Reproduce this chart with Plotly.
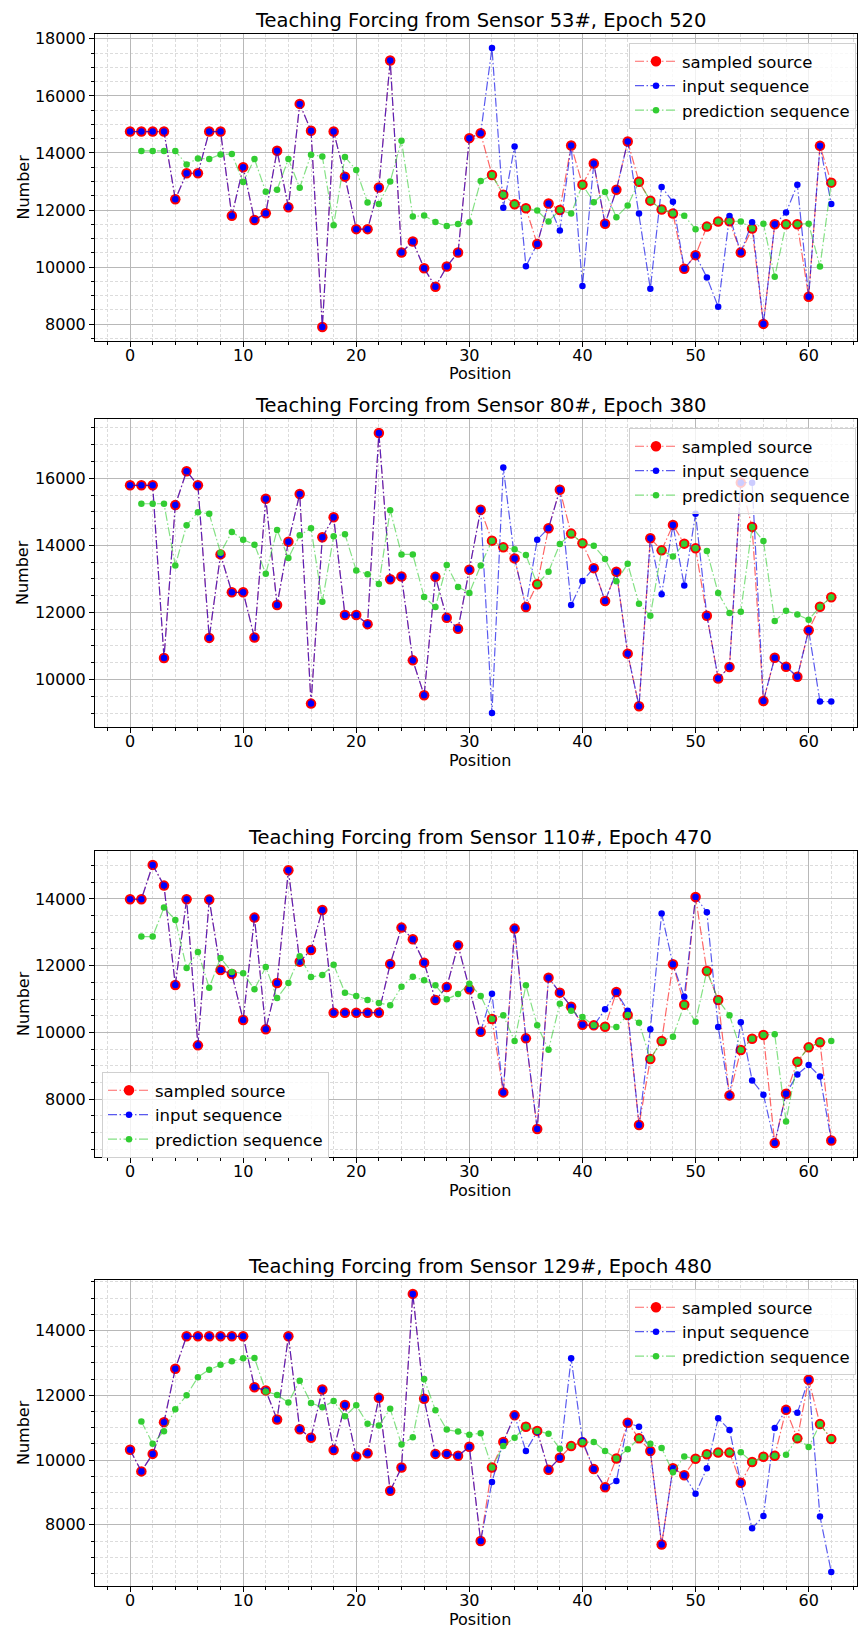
import plotly.graph_objects as go

# ---- data -----------------------------------------------------------------
positions = list(range(63))

sensors = ["53#", "80#", "110#", "129#"]
epochs = [520, 380, 470, 480]

input_53 = [14750, 14750, 14750, 14750, 12380, 13290, 13290, 14750, 14750, 11800,
            13500, 11650, 11890, 14080, 12100, 15720, 14780, 7900, 14750, 13170,
            11330, 11330, 12790, 17240, 10510, 10900, 9960, 9310, 10020, 10510,
            14520, 14690, 17680, 12080, 14230, 10030, 10810, 12230, 11280, 14260,
            9340, 13630, 11520, 12710, 14400, 11880, 9240, 12810, 12290, 9940,
            10420, 9640, 8610, 11790, 10510, 11570, 8010, 11500, 11910, 12890,
            8960, 14250, 12210]
pred_53 = [None, 14070, 14070, 14070, 14070, 13600, 13810, 13790, 13950, 13960,
           12980, 13790, 12640, 12710, 13790, 12780, 13940, 13880, 11470, 13860,
           13400, 12260, 12210, 13000, 14430, 11770, 11810, 11580, 11440, 11510,
           11570, 13020, 13230, 12540, 12200, 12060, 11980, 11600, 12000, 11880,
           12890, 12270, 12630, 11750, 12160, 12990, 12330, 12020, 11880, 11800,
           11330, 11420, 11600, 11610, 11600, 11350, 11520, 9660, 11500, 11500,
           11520, 10020, 12960]
from_pred_53 = [32, 33, 34, 35, 38, 40, 45, 46, 47, 48, 51, 52, 53, 55, 58, 59, 62]

input_80 = [15790, 15790, 15790, 10640, 15200, 16210, 15790, 11240, 13730, 12600,
            12600, 11250, 15390, 12220, 14110, 15530, 9280, 14240, 14840, 11920,
            11920, 11650, 17350, 12990, 13070, 10570, 9530, 13060, 11840, 11510,
            13270, 15060, 9000, 16320, 13610, 12160, 14170, 14510, 15660, 12220,
            12940, 13320, 12340, 13210, 10770, 9200, 14210, 12540, 14610, 12800,
            14940, 11900, 10030, 10370, 15870, 15870, 9360, 10650, 10380, 10080,
            11470, 9340, 9340]
pred_80 = [None, 15240, 15240, 15240, 13400, 14600, 14990, 14940, 13780, 14400,
           14170, 14020, 13150, 14460, 13620, 14300, 14510, 12320, 14270, 14330,
           13250, 13140, 12850, 15050, 13730, 13730, 12460, 12160, 13410, 12760,
           12580, 13400, 14140, 13940, 13880, 13710, 12840, 13210, 14040, 14350,
           14060, 13990, 13590, 12930, 13450, 12260, 11900, 13850, 13670, 14050,
           13910, 13830, 12580, 11980, 12020, 14550, 14130, 11740, 12050, 11940,
           11780, 12170, 12450]
from_pred_80 = [32, 33, 36, 39, 40, 47, 49, 50, 55, 61, 62]

input_110 = [13990, 13990, 15020, 14400, 11420, 13990, 9610, 13980, 11870, 11750,
             10370, 13440, 10090, 11480, 14860, 12120, 12470, 13670, 10590, 10590,
             10590, 10590, 10590, 12050, 13140, 12790, 12090, 10970, 11360, 12610,
             11290, 10020, 11160, 8200, 13110, 9820, 7100, 11640, 11190, 10770,
             10230, 10200, 10690, 11210, 10650, 7220, 10090, 13560, 12040, 11070,
             14060, 13600, 10160, 8110, 10300, 8560, 8130, 6680, 8160, 8740,
             9020, 8680, 6760]
pred_110 = [None, 12870, 12870, 13740, 13370, 11930, 12410, 11340, 12230, 11810,
            11770, 11290, 11960, 11030, 11480, 12280, 11660, 11720, 12030, 11190,
            11090, 10970, 10880, 10810, 11370, 11670, 11560, 11410, 10990, 11150,
            11460, 11090, 10400, 10510, 9740, 11410, 10210, 9480, 10860, 10650,
            10460, 10210, 10170, 10160, 10520, 10290, 9200, 9740, 9870, 10830,
            10320, 11840, 10970, 10510, 9470, 9810, 9920, 9940, 7330, 9120,
            9550, 9700, 9740]
from_pred_110 = [32, 41, 42, 44, 46, 47, 49, 51, 52, 54, 55, 56, 59, 60, 61]

input_129 = [10320, 9650, 10190, 11170, 12820, 13820, 13820, 13820, 13820, 13820,
             13820, 12250, 12150, 11250, 13820, 10950, 10690, 12180, 10310, 11700,
             10110, 10210, 11920, 9050, 9770, 15130, 11890, 10190, 10190, 10130,
             10410, 7500, 9320, 10560, 11380, 10280, 10880, 9700, 10070, 13140,
             10600, 9720, 9160, 9350, 11150, 11030, 10280, 7390, 9750, 9530,
             8960, 9750, 11290, 10930, 9300, 7890, 8270, 10990, 11550, 11460,
             12480, 8260, 6540]
pred_129 = [None, 11190, 10500, 10890, 11570, 12000, 12560, 12790, 12940, 13050,
            13140, 13150, 12120, 12010, 11780, 12450, 11760, 11630, 11820, 11350,
            11690, 11120, 11070, 11580, 10480, 10700, 12500, 11540, 10940, 10880,
            10780, 10830, 9770, 10430, 10690, 11030, 10900, 10810, 10350, 10430,
            10550, 10560, 10280, 10050, 10330, 10670, 10500, 10370, 9620, 10110,
            10040, 10180, 10230, 10230, 10240, 9940, 10100, 10130, 10160, 10670,
            10400, 11110, 10650]
from_pred_129 = [32, 35, 36, 39, 40, 43, 45, 50, 51, 52, 53, 55, 56, 57, 59, 61, 62]

inputs = [input_53, input_80, input_110, input_129]
preds = [pred_53, pred_80, pred_110, pred_129]
from_preds = [from_pred_53, from_pred_80, from_pred_110, from_pred_129]
x_ticks = [0, 10, 20, 30, 40, 50, 60]
y_ticks = [list(range(8000, 18001, 2000)), list(range(10000, 16001, 2000)),
           list(range(8000, 14001, 2000)), list(range(8000, 14001, 2000))]

# ---- layout geometry (pixels) ---------------------------------------------
W, H = 858, 1628
FONT = "DejaVu Sans"
plot_left, plot_right = 95, 857
px_per_pos = 11.31
panel_px = [(34, 341), (419, 727), (851, 1157), (1280, 1586)]
legend_px = [(856, 43, "right"), (856, 428, "right"), (102, 1072, "left"), (856, 1289, "right")]
center_x = 480

def py(v):
    return 1 - v / H

dashdot = "9px,2.5px,1.5px,2.5px"

fig = go.Figure()
layout = dict(
    width=W, height=H, margin=dict(l=0, r=0, t=0, b=0),
    paper_bgcolor="white", plot_bgcolor="white",
    font=dict(family=FONT, size=16, color="#000"),
    showlegend=True, annotations=[],
)

x_lo = -0.05 * (positions[-1] - positions[0])
x_hi = x_lo + (plot_right - plot_left) / px_per_pos

for k in range(4):
    n = k + 1
    xa = "x" if n == 1 else f"x{n}"
    ya = "y" if n == 1 else f"y{n}"
    lg = "legend" if n == 1 else f"legend{n}"
    inp, prd, fp = inputs[k], preds[k], set(from_preds[k])
    sampled = [prd[i] if i in fp else inp[i] for i in positions]

    fig.add_trace(go.Scatter(
        x=positions, y=sampled, name="sampled source", mode="lines+markers",
        xaxis=xa, yaxis=ya, legend=lg,
        line=dict(color="rgba(255,0,0,0.6)", width=1.2, dash=dashdot),
        marker=dict(color="#ff0000", size=10.5, line=dict(width=0))))
    fig.add_trace(go.Scatter(
        x=positions, y=inp, name="input sequence", mode="lines+markers",
        xaxis=xa, yaxis=ya, legend=lg,
        line=dict(color="rgba(0,0,230,0.65)", width=1.2, dash=dashdot),
        marker=dict(color="#0000ff", size=6.5, line=dict(width=0))))
    fig.add_trace(go.Scatter(
        x=positions, y=prd, name="prediction sequence", mode="lines+markers",
        xaxis=xa, yaxis=ya, legend=lg, connectgaps=False,
        line=dict(color="rgba(50,205,50,0.6)", width=1.2, dash=dashdot),
        marker=dict(color="#32cd32", size=6.5, line=dict(width=0))))

    vals = [v for v in inp + prd if v is not None]
    span = max(vals) - min(vals)
    y_lo, y_hi = min(vals) - 0.05 * span, max(vals) + 0.05 * span

    top, bottom = panel_px[k]
    axis_common = dict(
        showline=True, linecolor="#000", linewidth=1, mirror=True,
        ticks="outside", ticklen=5, tickwidth=1, tickcolor="#000",
        showgrid=True, gridcolor="#b8b8b8", gridwidth=1,
        zeroline=False, automargin=False,
        tickfont=dict(family=FONT, size=16, color="#000"),
    )
    layout["xaxis" if n == 1 else f"xaxis{n}"] = dict(
        axis_common, domain=[plot_left / W, plot_right / W], anchor=ya,
        range=[x_lo, x_hi], tickmode="array", tickvals=x_ticks, ticklabelstandoff=-5,
        minor=dict(dtick=2, tick0=0, ticks="outside", ticklen=3, tickcolor="#000",
                   showgrid=True, gridcolor="#dcdcdc", griddash="3px,2px", gridwidth=1),
    )
    layout["yaxis" if n == 1 else f"yaxis{n}"] = dict(
        axis_common, domain=[py(bottom), py(top)], anchor=xa,
        range=[y_lo, y_hi], tickmode="array", tickvals=y_ticks[k], tickformat="d",
        minor=dict(dtick=500, tick0=0, ticks="outside", ticklen=3, tickcolor="#000",
                   showgrid=True, gridcolor="#dcdcdc", griddash="3px,2px", gridwidth=1),
    )
    lx, ly, anchor = legend_px[k]
    layout[lg] = dict(
        x=lx / W, y=py(ly), xanchor=anchor, yanchor="top", itemwidth=42,
        bgcolor="rgba(255,255,255,0.8)", bordercolor="#d0d0d0", borderwidth=1,
        font=dict(family=FONT, size=16.5, color="#000"), tracegroupgap=0,
    )
    # panel title and axis titles
    layout["annotations"] += [
        dict(text=f"Teaching Forcing from Sensor {sensors[k]}, Epoch {epochs[k]}",
             xref="paper", yref="paper", x=center_x / W, y=py(top),
             xanchor="center", yanchor="bottom", yshift=0, showarrow=False,
             font=dict(family=FONT, size=19.5, color="#000")),
        dict(text="Position", xref="paper", yref="paper", x=center_x / W, y=py(bottom),
             xanchor="center", yanchor="middle", yshift=-33, showarrow=False,
             font=dict(family=FONT, size=16, color="#000")),
        dict(text="Number", xref="paper", yref="paper", x=23 / W, y=py((top + bottom) / 2),
             xanchor="center", yanchor="middle", textangle=-90, showarrow=False,
             font=dict(family=FONT, size=16, color="#000")),
    ]

fig.update_layout(**layout)
fig.write_html("out.html")
